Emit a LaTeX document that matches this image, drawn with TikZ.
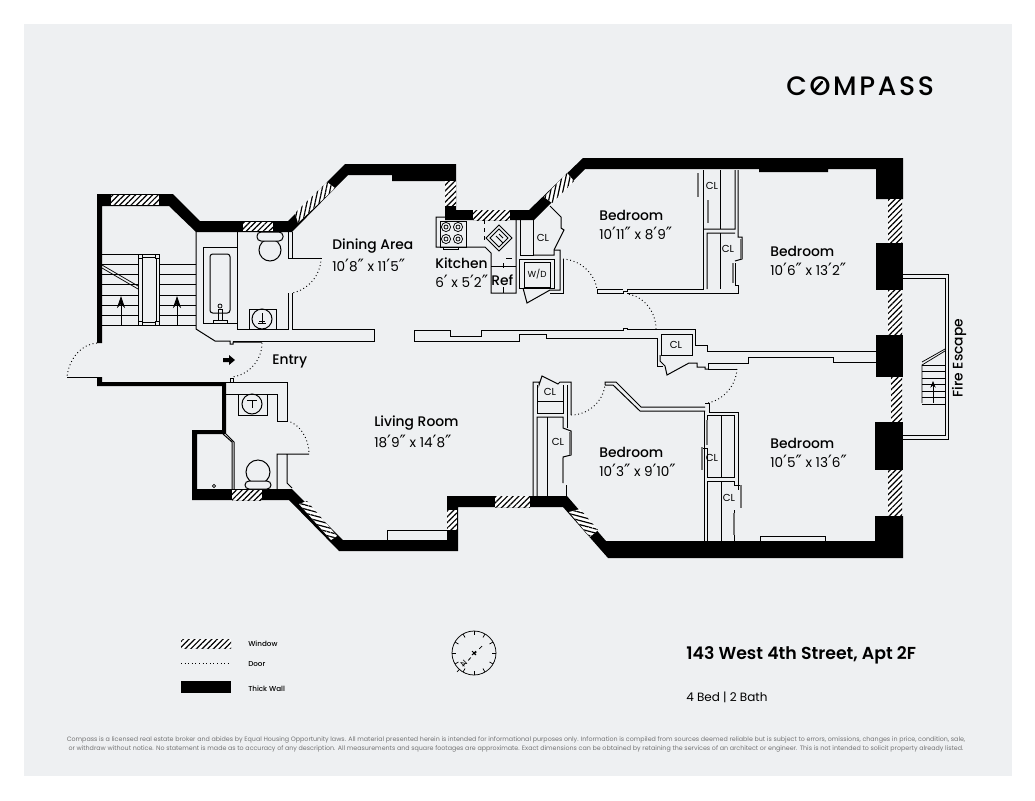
\documentclass[tikz,border=0pt]{standalone}
\usepackage{fontspec}
\setmainfont{Poppins}
\newfontfamily\medfont{Poppins Medium}
\newfontfamily\semifont{Poppins SemiBold}
\newfontfamily\primefont[Scale=1.25]{DejaVu Sans}
\newcommand{\ft}{{\primefont ′}}
\newcommand{\inch}{{\primefont ″}}
\usetikzlibrary{patterns.meta,arrows.meta,calc}
\definecolor{panelgray}{HTML}{EEF0F2}
\tikzset{>=stealth,
    wall/.style={fill=black,draw=none},
    thinwall/.style={line width=0.75pt,black},
    fine/.style={line width=0.55pt,black},
    slider/.style={line width=0.9pt,black!55},
    door/.style={line width=0.7pt,dotted,black},
    win/.style={preaction={fill=white},pattern={Lines[angle=#1,distance=3pt,line width=0.9pt]},draw=none},
    win/.default=45,
    roomname/.style={anchor=west,inner sep=0pt,font=\medfont\fontsize{10.4}{12}\selectfont},
    roomsize/.style={anchor=west,inner sep=0pt,font=\fontsize{10.2}{12}\selectfont},
    closet/.style={inner sep=0pt,font=\fontsize{7.6}{9}\selectfont},
    legendtext/.style={anchor=west,inner sep=0pt,font=\medfont\fontsize{5.4}{7}\selectfont},
}
\begin{document}
\begin{tikzpicture}[x=0.75pt,y=-0.75pt]
    \useasboundingbox (0,0) rectangle (1035,800);
    \fill[white] (0,0) rectangle (1035,800);
    \fill[panelgray] (24,24) rectangle (1012,776);
    % thick walls
    \fill[wall] (97,343) -- (97,194) -- (173,194) -- (200,221) -- (288,221) -- (345,164) -- (456,164) -- (456,210) -- (529,210) -- (583,158) -- (903,158) -- (903,199) -- (876,199) -- (876,169) -- (828,169) -- (828,172) -- (759,172) -- (759,169) -- (585,169) -- (534,220) -- (445,220) -- (445,181) -- (392,181) -- (392,175) -- (348,175) -- (292,232) -- (196,232) -- (169,206) -- (102,206) -- (102,343) -- cycle;
    \fill[wall] (97,377) -- (102,377) -- (102,382) -- (226,382) -- (226,434) -- (197,434) -- (197,489) -- (292,489) -- (343,540) -- (447,540) -- (447,496) -- (567,496) -- (606,541) -- (875,541) -- (875,516) -- (903,516) -- (903,558) -- (608,558) -- (563,507) -- (458,507) -- (458,551) -- (339,551) -- (289,500) -- (192,500) -- (192,430) -- (222,430) -- (222,386) -- (97,386) -- cycle;
    \fill[wall] (876,243) rectangle (903,290);
    \fill[wall] (876,335) rectangle (903,377);
    \fill[wall] (875,422) rectangle (903,470);
    % windows
    \fill[win] (111,195) rectangle (159,205);
    \fill[win] (243,222) rectangle (273,231);
    \fill[win=78] (295,213) -- (327,182) -- (335,188) -- (298,223) -- cycle;
    \fill[win] (445,181) rectangle (456,206);
    \fill[win] (473,210) rectangle (510,220);
    \fill[win=78] (544,197) -- (567,173) -- (574,181) -- (552,203) -- cycle;
    \fill[win] (888,199) rectangle (902,243);
    \fill[win] (888,290) rectangle (902,335);
    \fill[win] (891,377) rectangle (902,422);
    \fill[win] (888,470) rectangle (902,516);
    \fill[win] (232,490) rectangle (262,500);
    \fill[win=-15] (299,504) -- (307,501) -- (337,536) -- (331,540) -- cycle;
    \fill[win] (447,510) rectangle (457,530);
    \fill[win] (495,496) rectangle (530,507);
    \fill[win=-15] (569,512) -- (580,509) -- (598,530) -- (590,537) -- cycle;
    % stairs
    \foreach \y in {254,264,274,284,295,305,315,325}
        \draw[fine] (102,\y) -- (138,\y);
    \foreach \y in {264,274,284,295,305,315,325}
        \draw[fine] (159,\y) -- (196,\y);
    \draw[fine] (138,254) rectangle (159,325);
    \draw[fine] (142,257) rectangle (156,322);
    \foreach \cx/\cy in {140/256,157/256,140/323,157/323}
        \draw[fine,fill=panelgray] (\cx-2,\cy-2) rectangle (\cx+2,\cy+2);
    \draw[fine] (102,265) -- (138,286) (102,268) -- (138,289);
    \foreach \x in {121,177}
        \draw[fine,-{Stealth[length=9pt,width=6pt]}] (\x,325) -- (\x,296);
    % bath and corridor wall
    \draw[thinwall] (196,232) -- (196,329) -- (215,341) -- (230,341) -- (230,344) -- (233,344) -- (233,342) -- (262,342);
    \draw[thinwall] (237,231) -- (237,329) -- (288,329) -- (288,293);
    \draw[thinwall] (292,293) -- (292,329) -- (374,329) -- (374,341) -- (233,341);
    \draw[thinwall] (288,232) -- (288,258) -- (322,258) (292,232) -- (292,258);
    \draw[thinwall] (203,247) rectangle (237,323);
    \draw[thinwall,rounded corners=2pt] (210,254) rectangle (230,313);
    \draw[fine] (220,306) circle (2);
    \draw[fine] (218,309) rectangle (222,320) (213,320) rectangle (227,323);
    \draw[thinwall,fill=panelgray] (270,250) ellipse (11 and 11);
    \draw[thinwall,rounded corners=3pt,fill=panelgray] (257,232) rectangle (283,241);
    \draw[thinwall] (249,309) rectangle (276,329);
    \draw[thinwall] (262,319) circle (10);
    \draw[fine] (262,313) -- (262,323) (258,323) -- (266,323) (259,321) -- (265,321);
    \draw[door] (321,258) .. controls (321,275) and (308,290) .. (292,293);
    \draw[door] (97,343) .. controls (82,344) and (69,358) .. (67,377);
    \draw[thinwall] (67,377) -- (97,377);
    \draw[door] (262,343) .. controls (262,360) and (249,375) .. (232,377);
    \fill[black] (223,358) -- (229,358) -- (229,355) -- (235,360) -- (229,365) -- (229,362) -- (223,362) -- cycle;
    \draw[thinwall] (230,382) -- (230,378) -- (233,378) -- (233,382);
    % lower bath
    \draw[thinwall] (226,382) -- (287,382) -- (287,421) -- (277,421) -- (277,394) -- (226,394);
    \draw[thinwall] (238,394) rectangle (267,415);
    \draw[thinwall] (252,404) circle (10);
    \draw[fine] (247,400) -- (257,400) (252,400) -- (252,408);
    \draw[door] (287,421) .. controls (299,423) and (309,438) .. (309,454);
    \draw[thinwall] (309,454) -- (277,454) -- (277,489) (287,454) -- (287,483) -- (292,488);
    \draw[thinwall] (223,434) -- (232,442) -- (232,489) (226,434) -- (234,442) -- (234,489);
    \draw[thinwall,fill=panelgray] (258,472) ellipse (12 and 12);
    \draw[thinwall,rounded corners=3pt,fill=panelgray] (245,481) rectangle (271,489);
    \draw[fine] (214,486) circle (1.7);
    % central wall
    \draw[thinwall] (414,330) -- (450,330) -- (450,336) -- (481,336) -- (481,330) -- (623,330) -- (623,328) -- (627,328) -- (627,329.5) -- (656,329.5);
    \draw[thinwall] (414,330) -- (414,341) -- (519,341) -- (519,334) -- (546,334) -- (546,338) -- (657,338) -- (657,366) -- (663,366);
    \draw[door] (656,329) .. controls (656,312) and (644,296) .. (627,294);
    \draw[thinwall] (656,329) -- (695,329) -- (695,345) -- (707,345) -- (707,351) -- (876,351);
    \draw[thinwall] (661,355) -- (661,334) -- (692,334) -- (692,355) -- cycle;
    \draw[thinwall] (660,355) -- (660,361) -- (665,366) -- (667,375) -- (689,363) -- (697,363) -- (697,367) -- (705,367) -- (705,369) -- (708,369);
    \draw[thinwall] (708,369) -- (708,363) -- (748,363) -- (748,357) -- (833,357) -- (833,362) -- (876,362);
    \draw[thinwall] (708,369) -- (737,369);
    \draw[door] (737,369) .. controls (736,386) and (723,400) .. (708,403);
    % kitchen
    \draw[thinwall] (445,217) -- (436,217) -- (436,247) -- (485,247) -- (491,253) -- (491,293) -- (516,293) -- (516,220);
    \draw[thinwall] (440,221) rectangle (466,247);
    \draw[fine] (466,221) -- (466,247);
    \draw[fine] (443,247) -- (443,249) -- (458,249) -- (458,247);
    \foreach \cx/\cy in {446/227,458/227,446/239,458/239}{
        \draw[fine] (\cx,\cy) circle (4.6);
        \draw[fine] (\cx,\cy) circle (2);
    }
    \draw[fine,dashed] (484,220) -- (484,242);
    \draw[thinwall] (499,225) -- (512,238) -- (499,251) -- (486,238) -- cycle;
    \draw[fine] (499,229) -- (508,238) -- (499,247) -- (490,238) -- cycle;
    \draw[fine] (496,236) -- (503,243) (499,234) -- (503,238);
    \draw[fine] (491,266) -- (516,266);
    \draw[fine] (503,263) -- (503,268) (503,287) -- (503,293);
    \draw[fine] (506,258) -- (512,258);
    % closets by kitchen
    \draw[thinwall] (520,220) -- (520,255) -- (533,255) -- (533,220);
    \draw[thinwall] (533,255) -- (554,255) -- (554,250) -- (564,230) -- (561,228) -- (561,217) -- (550,206);
    \draw[thinwall] (554,250) -- (560,250) -- (560,290) -- (550,290) -- (527,303) -- (523,288);
    \draw[thinwall] (563,259) -- (563,293) -- (550,293);
    \draw[thinwall] (519,259) rectangle (554,288);
    \draw[thinwall] (524,262) rectangle (550,287);
    \draw[door] (563,259) .. controls (580,260) and (595,273) .. (597,290);
    % bedroom walls
    \draw[thinwall] (597,293) -- (597,289) -- (623,289) (597,293) -- (623,293) -- (623,291) -- (627,291) -- (627,289) -- (703,289) -- (703,170);
    \draw[thinwall] (627,293) -- (738,293) -- (738,285) -- (735,285) -- (735,263);
    \draw[thinwall] (707,289) -- (707,233) -- (735,233) (703,229) -- (735,229) -- (735,170) (738,170) -- (738,237) -- (742,237) -- (742,259) -- (735,261);
    \draw[thinwall] (720,170) -- (720,229) (720,233) -- (720,289);
    \draw[slider] (698,173) -- (698,197) (708,200) -- (708,223) (741,239) -- (741,259) (733,263) -- (733,283);
    % bedroom below
    \draw[thinwall] (533,496) -- (533,382) -- (539,382) -- (539,385) -- (542,376) -- (558,384) -- (560,382) -- (571,382) -- (571,415);
    \draw[thinwall] (537,496) -- (537,417) -- (563,417) -- (563,428) -- (571,431) -- (571,455) -- (563,457) -- (563,483);
    \draw[thinwall] (537,385) -- (537,413) -- (563,413) -- (563,385);
    \draw[thinwall] (537,401) -- (563,401) (567,385) -- (567,428) (547,417) -- (547,496) (566,485) -- (566,496);
    \draw[slider] (570,432) -- (570,455) (563,458) -- (563,483);
    \draw[door] (571,415) .. controls (588,415) and (603,402) .. (605,385);
    \draw[thinwall] (605,385) -- (605,382) -- (616,382) -- (641,407) -- (705,407) (605,385) -- (613,385) -- (640,411) -- (705,411);
    \draw[thinwall] (705,403) -- (709,403) -- (709,412) -- (738,412) -- (738,490);
    \draw[thinwall] (704,411) -- (704,541) (707,481) -- (707,541) (721,415) -- (721,477) (721,481) -- (721,541);
    \draw[thinwall] (707,415) -- (734,415) -- (734,477) -- (707,477) -- (707,448) -- (702,448) (707,481) -- (734,481) -- (734,485) -- (741,485) -- (741,508);
    \draw[thinwall] (734,510) -- (734,541) (707,415) -- (707,425);
    \draw[slider] (707,420) -- (707,445) (702,447) -- (702,470) (741,485) -- (741,508) (734,513) -- (734,535);
    % radiator boxes
    \draw[thinwall] (387,540) -- (387,530) -- (447,530);
    \draw[thinwall] (760,541) -- (760,536) -- (825,536) -- (825,541);
    % fire escape
    \draw[thinwall] (903,274) -- (948,274) -- (948,439) -- (903,439);
    \draw[thinwall] (903,278) -- (945,278) -- (945,435) -- (903,435);
    \draw[fine] (922,403) -- (922,365) -- (945,351) (922,362) -- (945,349);
    \foreach \y in {365,371.5,...,404}
        \draw[fine] (922,\y) -- (945,\y);
    \draw[fine,-{Stealth[length=5pt,width=4pt]}] (933,403) -- (933,381);
    % room labels
    \node[roomname] (diningname) at (332,246) {Dining Area};
    \node[roomsize] (diningsize) at (332,265) {10\ft 8\inch{} x 11\ft 5\inch};
    \node[roomname] (kitchenname) at (435,263) {Kitchen};
    \node[roomsize] (kitchensize) at (435,281) {6\ft{} x 5\ft 2\inch};
    \node[roomname] (refname) at (491,280) {Ref};
    \node[roomname] (bedaname) at (599,215) {Bedroom};
    \node[roomsize] (bedasize) at (599,233) {10\ft 11\inch{} x 8\ft 9\inch};
    \node[roomname] (bedbname) at (770,251) {Bedroom};
    \node[roomsize] (bedbsize) at (770,269) {10\ft 6\inch{} x 13\ft 2\inch};
    \node[roomname] (livingname) at (374,423) {Living Room};
    \node[roomsize] (livingsize) at (374,441) {18\ft 9\inch{} x 14\ft 8\inch};
    \node[roomname] (bedcname) at (599,452) {Bedroom};
    \node[roomsize] (bedcsize) at (599,470) {10\ft 3\inch{} x 9\ft 10\inch};
    \node[roomname] (beddname) at (770,443) {Bedroom};
    \node[roomsize] (beddsize) at (770,461) {10\ft 5\inch{} x 13\ft 6\inch};
    \node[roomname] (entryname) at (272,361) {Entry};
    \node[roomname,anchor=center,rotate=90] (firename) at (959,358) {Fire Escape};
    \node[closet] (cla) at (543,238) {CL};
    \node[closet] (clb) at (712,186) {CL};
    \node[closet] (clc) at (728,249) {CL};
    \node[closet] (cld) at (676,345) {CL};
    \node[closet] (cle) at (550,392) {CL};
    \node[closet] (clf) at (558,442) {CL};
    \node[closet] (clg) at (712,458) {CL};
    \node[closet] (clh) at (729,498) {CL};
    \node[closet,font=\fontsize{6.6}{8}\selectfont] (wd) at (537,274) {W/D};
    % legend
    \fill[win] (181,639) rectangle (231,648);
    \draw[door] (181,663.5) -- (230,663.5);
    \fill[wall] (181,681) rectangle (231,693);
    \node[legendtext] (legwin) at (248,644) {Window};
    \node[legendtext] (legdoor) at (248,664) {Door};
    \node[legendtext] (legwall) at (248,689) {Thick Wall};
    % compass rose
    \coordinate (rose) at (474,653);
    \draw[fine] (rose) circle (22);
    \foreach \a in {0,30,...,330}
        \draw[fine] ($(rose)+(\a:22)$) -- ($(rose)+(\a:18)$);
    \draw[fine,dashed] (482,646) -- (456,673);
    \draw[fine] (472,651) -- (476,655) (476,651) -- (472,655);
    \node[inner sep=0pt,rotate=45,font=\fontsize{6}{7}\selectfont] (north) at (464,664) {N};
    % address and logo
    \node[anchor=west,inner sep=0pt,font=\semifont\fontsize{13}{16}\selectfont] (address) at (686,655) {143 West 4th Street, Apt 2F};
    \node[anchor=west,inner sep=0pt,font=\fontsize{9}{11}\selectfont] (beds) at (686,697) {4 Bed | 2 Bath};
    \node[anchor=west,inner sep=0pt,font=\medfont\fontsize{20}{24}\selectfont] (logo) at (786,86) {\addfontfeature{LetterSpace=10}COMPASS};
    \draw[line width=1.8pt,line cap=round] (815,90) -- (822,82);
    \node[inner sep=0pt,text=black!55,align=center,font=\fontsize{4.75}{6.75}\selectfont] (fineprint) at (516,744.5) {Compass is a licensed real estate broker and abides by Equal Housing Opportunity laws. All material presented herein is intended for informational purposes only. Information is compiled from sources deemed reliable but is subject to errors, omissions, changes in price, condition, sale,\\or withdraw without notice. No statement is made as to accuracy of any description. All measurements and square footages are approximate. Exact dimensions can be obtained by retaining the services of an architect or engineer. This is not intended to solicit property already listed.};
\end{tikzpicture}
\end{document}
